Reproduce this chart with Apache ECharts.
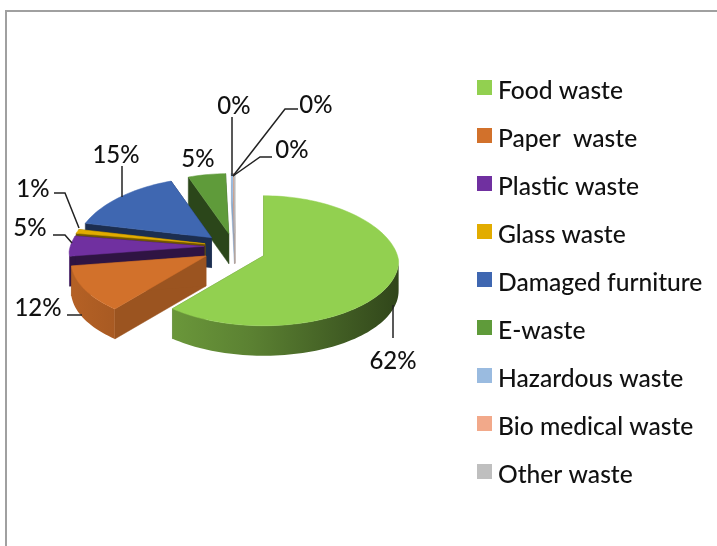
<!DOCTYPE html>
<html><head><meta charset="utf-8">
<style>html,body{margin:0;padding:0;background:#fff}#c{width:717px;height:546px}</style>
<script src="https://cdn.jsdelivr.net/npm/echarts@6/dist/echarts.min.js"></script>
</head><body><div id="c"></div>
<script>
// ---- data ----
const categories = ['Food waste','Paper  waste','Plastic waste','Glass waste','Damaged furniture','E-waste','Hazardous waste','Bio medical waste','Other waste'];
const shares = [61.8,12,5,1,15,4.8,0.25,0.05,0.1];
// ---- style ----
const colors = ['#92d050','#d2712b','#7030a0','#e2ac00','#3f67b1','#5f9b3a','#9abbe0','#f2a98a','#bfbfbf'];
const sideShade = [0.6,0.74,0.42,0.5,0.45,0.45,0.88,0.88,0.88];
const paintOrder = [9,8,7,6,5,4,1,2,3];
const explodeBy = [35,30,30,30,30,30,30,30,30];
const nudgeX = [-1,1,2,2,1,2,3,3,3];
const labelBoxes = [
 {t:[393,361],l:[[393,305],[393,338]]},
 {t:[38,308],l:[[67,315],[82,315]]},
 {t:[30,228],l:[[53,235],[65,235],[72,243]]},
 {t:[33,189],l:[[54,193],[65,193],[79,228]]},
 {t:[116,155],l:[[122,166],[122,197]]},
 {t:[198,159],l:null},
 {t:[234,106],l:[[232,117],[232,176]]},
 {t:[316,105],l:[[298,109],[285,109],[233,176]]},
 {t:[292,150],l:[[272,157],[260,157],[233,176]]}
];
const hub = {x:232,y:247.5,rx:135,ry:65,lift:5,depth:30,tiltBack:0.47,tiltFront:0.65,backNarrow:0.07};
const FONT = 'Lato, Carlito, sans-serif';

const total = shares.reduce((a,b)=>a+b,0);
const starts = shares.map((_,i)=>shares.slice(0,i).reduce((a,b)=>a+b,0));
const rad = d=>d*Math.PI/180;
function mix(hex,f){
  const n=parseInt(hex.slice(1),16);
  return 'rgb('+[n>>16,(n>>8)&255,n&255].map(v=>Math.round(v*f)).join(',')+')';
}
function renderSlice(params,api){
  const i=params.seriesIndex;
  const a0=api.value(1)/total*360, a1=(api.value(1)+api.value(0))/total*360, mid=(a0+a1)/2;
  const color=colors[i];
  const cm=Math.cos(rad(mid));
  const ax=hub.x+nudgeX[i]+explodeBy[i]*Math.sin(rad(mid));
  const ay=hub.y-explodeBy[i]*cm*(cm>0?hub.tiltBack:hub.tiltFront);
  const pt=a=>{
    const c=Math.cos(rad(a));
    const f=1-hub.backNarrow*Math.max(c,0);
    return [ax+hub.rx*f*Math.sin(rad(a)), ay+hub.lift-hub.ry*c];
  };
  const arc=(s,e)=>{const n=Math.max(2,Math.ceil((e-s)/2)),o=[];for(let k=0;k<=n;k++)o.push(pt(s+(e-s)*k/n));return o;};
  const drop=p=>[p[0],p[1]+hub.depth];
  const children=[];
  const side=(p,q)=>children.push({type:'polygon',shape:{points:[p,q,drop(q),drop(p)]},
    style:{fill:mix(color,sideShade[i]),stroke:mix(color,sideShade[i]),lineWidth:0.5}});
  side([ax,ay],pt(a0)); side([ax,ay],pt(a1));
  const w0=Math.max(a0,90), w1=Math.min(a1,270);
  if(w1>w0){
    const top=arc(w0,w1);
    children.push({type:'polygon',shape:{points:top.concat(top.slice().reverse().map(drop))},
      style:{fill:{type:'linear',global:true,x:70,y:0,x2:400,y2:0,colorStops:[
        {offset:0,color:mix(color,0.86)},{offset:0.55,color:mix(color,0.62)},{offset:1,color:mix(color,0.33)}]}}});
  }
  children.push({type:'polygon',shape:{points:[[ax,ay]].concat(arc(a0,a1))},style:{fill:color,stroke:color,lineWidth:0.5}});
  return {type:'group',children};
}
function renderLabel(params,api){
  const i=params.dataIndex, b=labelBoxes[i], children=[];
  if(b.l) children.push({type:'polyline',shape:{points:b.l},style:{fill:'none',stroke:'#222',lineWidth:1.5}});
  children.push({type:'text',style:{x:b.t[0],y:b.t[1],text:Math.round(api.value(0)/total*100)+'%',
    fill:'#111',font:'500 24px '+FONT,textAlign:'center',textVerticalAlign:'middle'}});
  return {type:'group',children};
}
const series=categories.map((name,i)=>({
  name,type:'custom',coordinateSystem:'none',z:paintOrder[i]+1,silent:true,
  itemStyle:{color:colors[i]},
  renderItem:renderSlice,
  data:[[shares[i],starts[i]]]
}));
series.push({type:'custom',coordinateSystem:'none',z:30,silent:true,renderItem:renderLabel,data:shares.map(v=>[v])});
const chart=echarts.init(document.getElementById('c'),null,{renderer:'canvas'});
chart.setOption({
  animation:false,
  backgroundColor:'#fff',
  legend:{data:categories,orient:'vertical',left:477,top:71,padding:0,icon:'rect',itemWidth:15,itemHeight:15,itemGap:15,
    selectedMode:false,
    formatter:'{n|{name}}',
    textStyle:{rich:{n:{fontFamily:FONT,fontWeight:500,fontSize:24.6,color:'#111',padding:[8,0,0,1],lineHeight:24}}}},
  graphic:[{type:'polyline',silent:true,shape:{points:[[6,546],[6,11],[717,11]]},style:{fill:'none',stroke:'#a0a0a0',lineWidth:2}}],
  series
});
</script></body></html>
